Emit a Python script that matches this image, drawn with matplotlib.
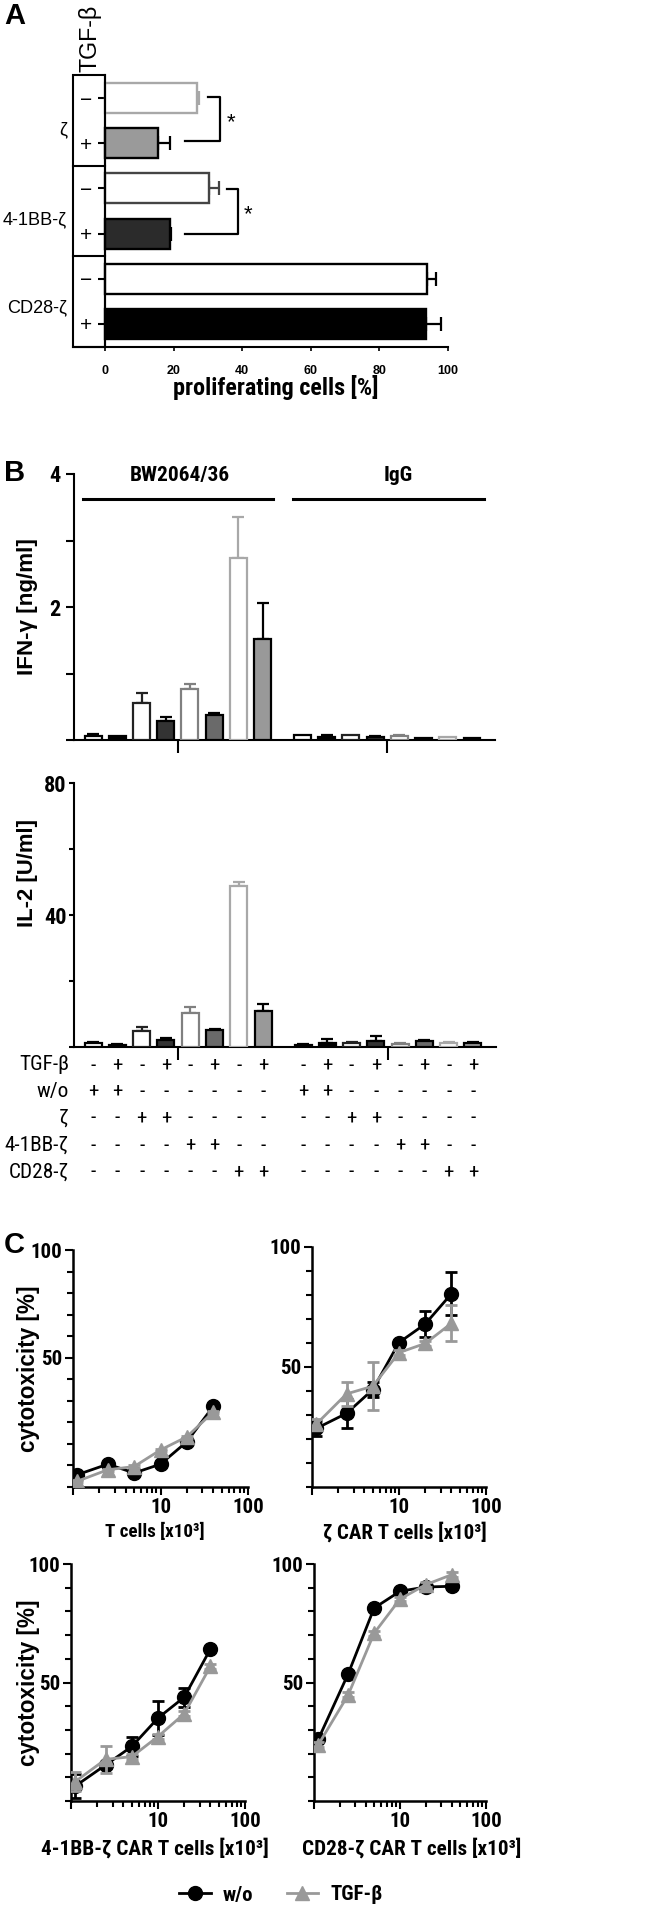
import matplotlib
matplotlib.use('Agg')
import matplotlib.pyplot as plt
from matplotlib import font_manager as fm
from matplotlib.patches import Rectangle
from matplotlib.ticker import MultipleLocator, LogLocator, NullFormatter, FixedLocator
import matplotlib.transforms as mtransforms
import numpy as np

# ---------------- fonts ----------------
_avail = {f.name for f in fm.fontManager.ttflist}
if 'Liberation Sans Narrow' in _avail:
    NARROW = {'family': ['Liberation Sans Narrow', 'DejaVu Sans']}
elif 'Roboto Condensed' in _avail:
    NARROW = {'family': ['Roboto Condensed', 'DejaVu Sans']}
else:
    NARROW = {'family': ['Liberation Sans', 'DejaVu Sans']}
SANS = ['Liberation Sans', 'DejaVu Sans']
plt.rcParams['font.family'] = SANS

# ---------------- data ----------------
# Panel A
A_groups = ['ζ', '4-1BB-ζ', 'CD28-ζ']
A_tgf = ['−', '+', '−', '+', '−', '+']
A_vals = [26.8, 15.6, 30.3, 18.9, 94.0, 93.5]
A_err = [0.6, 3.4, 3.0, 0.4, 2.5, 4.5]
A_ticks = [0, 20, 40, 60, 80, 100]
A_fill = ['white', '#9a9a9a', 'white', '#2b2b2b', 'white', 'black']
A_edge = ['#a8a8a8', 'black', '#444444', 'black', 'black', 'black']

# Panel B
B_groups = ['BW2064/36', 'IgG']
B_rows = ['TGF-β', 'w/o', 'ζ', '4-1BB-ζ', 'CD28-ζ']
B_tgf = ['-', '+'] * 8
B_car = ['w/o', 'w/o', 'ζ', 'ζ', '4-1BB-ζ', '4-1BB-ζ', 'CD28-ζ', 'CD28-ζ'] * 2
ifn_vals = [0.06, 0.06, 0.55, 0.29, 0.76, 0.37, 2.73, 1.52,
            0.07, 0.05, 0.07, 0.05, 0.065, 0.03, 0.045, 0.03]
ifn_err = [0.025, 0.0, 0.15, 0.06, 0.08, 0.03, 0.62, 0.54,
           0.0, 0.02, 0.0, 0.015, 0.015, 0.0, 0.0, 0.0]
il2_vals = [1.2, 0.7, 4.7, 2.2, 10.3, 5.1, 48.8, 11.0,
            0.7, 1.2, 1.2, 1.7, 1.0, 1.7, 1.2, 1.1]
il2_err = [0.4, 0.2, 1.5, 0.5, 1.7, 0.4, 1.3, 2.1,
           0.2, 1.2, 0.3, 1.5, 0.2, 0.4, 0.3, 0.3]
B_fill = ['white', 'black', 'white', '#333333', 'white', '#6a6a6a', 'white', '#999999'] * 2
B_edge = ['black', 'black', '#222222', 'black', '#808080', 'black', '#a8a8a8', 'black'] * 2

# Panel C
x_cells = [1.12, 2.5, 5, 10, 20, 40]
T_wo = [-4.3, 0.6, -3.5, 0.6, 11.0, 27.4]
T_wo_err = [0.5, 0.5, 0.5, 0.5, 0.5, 0.5]
T_tg = [-7.3, -2.0, -0.5, 7.2, 13.3, 24.8]
T_tg_err = [0.5, 0.5, 0.5, 0.5, 0.5, 0.5]
Z_wo = [24.4, 30.7, 40.6, 60.2, 67.9, 80.5]
Z_wo_err = [3, 6, 3, 1, 5.5, 9]
Z_tg = [26.2, 38.8, 42, 56, 59.8, 68.2]
Z_tg_err = [2, 5, 10, 1, 1, 7.5]
BB_wo = [6.3, 15.2, 23, 35, 43.8, 64.1]
BB_wo_err = [5, 1, 4, 7, 4, 1]
BB_tg = [8.2, 17.6, 18.7, 27.2, 36.8, 56.8]
BB_tg_err = [4, 5.7, 1, 1, 1, 1]
CD_wo = [26, 53.7, 81.4, 88.5, 90.3, 90.6]
CD_wo_err = [1, 1, 1, 1, 1, 1]
CD_tg = [23.7, 44.8, 70.8, 85.2, 91.3, 95.5]
CD_tg_err = [1, 1, 1, 1, 1, 1]

# ---------------- figure ----------------
W, H = 667, 1912
fig = plt.figure(figsize=(W / 100, H / 100), dpi=100)
renderer = fig.canvas.get_renderer()


def add_ax(x0, y0, x1, y1):
    return fig.add_axes([x0 / W, 1 - y1 / H, (x1 - x0) / W, (y1 - y0) / H])


def fx(x):
    return x / W


def fy(y):
    return 1 - y / H


def fit(t, target_px):
    """scale a text so that its length matches the reference length (px)"""
    bb = t.get_window_extent(renderer)
    length = bb.height if abs(t.get_rotation() - 90) < 1 else bb.width
    t.set_fontsize(t.get_fontsize() * target_px / length)
    return t.get_fontsize()


LW = 1.5

# ---------------- Panel A ----------------
fig.text(fx(4), fy(16), 'A', fontsize=21, fontweight='bold', ha='left', va='center')
axA = add_ax(73, 75, 448, 347)
ypos = np.arange(len(A_vals))
for i in range(len(A_vals)):
    axA.barh(ypos[i], A_vals[i], height=0.66, color=A_fill[i], edgecolor=A_edge[i],
             linewidth=1.7, zorder=3)
    axA.errorbar(A_vals[i], ypos[i], xerr=[[0], [A_err[i]]], fmt='none', ecolor=A_edge[i],
                 elinewidth=1.6, capsize=5, capthick=1.6, zorder=2)
xminA = -9.3
axA.set_xlim(xminA, 100)
axA.set_ylim(5.51, -0.51)
for s in ['top', 'right']:
    axA.spines[s].set_visible(False)
axA.spines['left'].set_position(('data', 0))
axA.spines['left'].set_linewidth(LW)
axA.spines['bottom'].set_linewidth(LW)
axA.set_yticks(ypos, A_tgf, fontsize=15)
axA.tick_params(axis='y', direction='out', length=5, width=LW, pad=4)
axA.set_xticks(A_ticks, [str(v) for v in A_ticks], fontsize=9, fontweight='bold')
axA.tick_params(axis='x', direction='out', length=3, width=1.2, pad=10)
# box with group dividers
axA.add_patch(Rectangle((xminA, -0.51), -xminA, 6.02, fill=False, lw=LW, ec='black',
                        clip_on=False, zorder=4))
for yd in [1.5, 3.5]:
    axA.plot([xminA, 0], [yd, yd], color='black', lw=LW, clip_on=False, zorder=4)
# significance brackets
axA.plot([30.0, 33.5, 33.5, 23.3], [-0.02, -0.02, 0.95, 0.95], color='black', lw=1.6, zorder=4)
axA.text(35.4, 0.55, '*', fontsize=16, ha='left', va='center')
axA.plot([35.6, 38.8, 38.8, 23.3], [2.01, 2.01, 3.0, 3.0], color='black', lw=1.6, zorder=4)
axA.text(40.4, 2.58, '*', fontsize=16, ha='left', va='center')
grp_txt = []
for g, yy in zip(A_groups, [130, 220, 308]):
    grp_txt.append(fig.text(fx(67), fy(yy), g, fontsize=13, ha='right', va='center'))
s = fit(grp_txt[1], 64)
for t in grp_txt:
    t.set_fontsize(s)
t = fig.text(fx(90), fy(38), 'TGF-β', fontsize=14, rotation=90, ha='center', va='center')
fit(t, 68)
t = fig.text(fx(276), fy(387), 'proliferating cells [%]', fontsize=16, fontweight='bold',
             ha='center', va='center', **NARROW)
fit(t, 205)

# ---------------- Panel B ----------------
fig.text(fx(4), fy(473), 'B', fontsize=21, fontweight='bold', ha='left', va='center')
xB = np.r_[np.arange(8), np.arange(8) + 8.65]
grp_centers = [xB[:8].mean(), xB[8:].mean()]


def bar_panel(box, vals, errs, ylim, major, labels, minor, tlen, tpad):
    ax = add_ax(*box)
    ax.bar(xB, vals, width=0.7, color=B_fill, edgecolor=B_edge, linewidth=1.6, zorder=3)
    for i in range(len(vals)):
        if errs[i] > 0:
            ax.errorbar(xB[i], vals[i], yerr=[[0], [errs[i]]], fmt='none', ecolor=B_edge[i],
                        elinewidth=1.6, capsize=4, capthick=1.6, zorder=2)
    ax.set_xlim(-0.79, 16.6)
    ax.set_ylim(*ylim)
    for sp in ['top', 'right']:
        ax.spines[sp].set_visible(False)
    for sp in ['left', 'bottom']:
        ax.spines[sp].set_linewidth(LW)
    ax.set_yticks(major, labels, fontsize=16, fontweight='bold', **NARROW)
    ax.yaxis.set_minor_locator(FixedLocator(minor))
    ax.tick_params(axis='y', which='both', direction='out', length=tlen, width=LW, pad=tpad)
    ax.set_xticks(grp_centers, ['', ''])
    ax.tick_params(axis='x', direction='out', length=9, width=LW)
    return ax


axI = bar_panel((74, 474, 495, 740), ifn_vals, ifn_err, (0, 4), [0, 2, 4], ['', '2', '4'],
                [1, 3], 6, 4)
gtx = []
for (x0, x1), g, tx in zip([(-0.41, 7.44), (8.26, 16.16)], B_groups, [3.6, 12.6]):
    axI.plot([x0, x1], [3.62, 3.62], color='black', lw=2.2, clip_on=False)
    gtx.append(axI.text(tx, 3.97, g, fontsize=16, fontweight='bold', ha='center', va='center',
                        **NARROW))
s = fit(gtx[0], 100)
gtx[1].set_fontsize(s)
t = fig.text(fx(28), fy(607), 'IFN-γ [ng/ml]', fontsize=14, fontweight='bold', rotation=90,
             ha='center', va='center')
fit(t, 137)

axL = bar_panel((74, 783, 496, 1047), il2_vals, il2_err, (0, 80), [0, 40, 80], ['', '40', '80'],
                [20, 60], 3.5, 2)
t = fig.text(fx(28), fy(873), 'IL-2 [U/ml]', fontsize=14, fontweight='bold', rotation=90,
             ha='center', va='center')
fit(t, 108)

# table under IL-2
trans = mtransforms.blended_transform_factory(axL.transData, fig.transFigure)
row_y = [1065, 1091, 1118, 1145, 1172]
row_txt = []
for r, (lab, yy) in enumerate(zip(B_rows, row_y)):
    row_txt.append(fig.text(fx(69), fy(yy), lab, fontsize=13, ha='right', va='center', **NARROW))
    for i in range(len(xB)):
        if r == 0:
            sgn = B_tgf[i]
        else:
            sgn = '+' if B_car[i] == lab else '-'
        axL.text(xB[i], fy(yy), sgn, transform=trans, fontsize=15, ha='center', va='center',
                 **NARROW)
s = fit(row_txt[3], 64)
for t in row_txt:
    t.set_fontsize(s)

# ---------------- Panel C ----------------
fig.text(fx(4), fy(1245), 'C', fontsize=21, fontweight='bold', ha='left', va='center')


def cyto_panel(box, ylim, wo, wo_err, tg, tg_err, xlabel, xl_pos, xl_w, ylabel):
    ax = add_ax(*box)
    ax.set_xscale('log')
    h1 = ax.errorbar(x_cells, wo, yerr=wo_err, color='black', marker='o', ms=10, lw=2.0,
                     elinewidth=2.0, capsize=4, capthick=2.0, zorder=3, label='w/o')
    h2 = ax.errorbar(x_cells, tg, yerr=tg_err, color='#999999', marker='^', ms=10, lw=2.0,
                     elinewidth=2.0, capsize=4, capthick=2.0, zorder=4, label='TGF-β')
    ax.set_xlim(1, 100)
    ax.set_ylim(*ylim)
    for sp in ['top', 'right']:
        ax.spines[sp].set_visible(False)
    for sp in ['left', 'bottom']:
        ax.spines[sp].set_linewidth(LW + 0.3)
    ax.set_yticks([50, 100], ['50', '100'], fontsize=15, fontweight='bold', **NARROW)
    ax.yaxis.set_minor_locator(MultipleLocator(10))
    ax.set_xticks([1, 10, 100], ['', '10', '100'], fontsize=15, fontweight='bold', **NARROW)
    ax.xaxis.set_minor_locator(LogLocator(base=10, subs=np.arange(2, 10)))
    ax.xaxis.set_minor_formatter(NullFormatter())
    ax.tick_params(axis='both', which='major', direction='out', length=6, width=LW, pad=2)
    ax.tick_params(axis='y', which='major', pad=1.5)
    ax.tick_params(axis='both', which='minor', direction='out', length=4, width=LW)
    tx = fig.text(fx(xl_pos[0]), fy(xl_pos[1]), xlabel, fontsize=14, fontweight='bold',
                  ha='center', va='center', **NARROW)
    fit(tx, xl_w)
    if ylabel:
        ty = fig.text(fx(29), fy((box[1] + box[3]) / 2), ylabel, fontsize=14, fontweight='bold',
                      rotation=90, ha='center', va='center')
        fit(ty, 167)
    return ax, h1, h2


cyto_panel((73, 1250, 248, 1487), (-10, 100), T_wo, T_wo_err, T_tg, T_tg_err,
           'T cells [x10³]', (155, 1532), 100, 'cytotoxicity [%]')
cyto_panel((312, 1247, 486, 1487), (0, 100), Z_wo, Z_wo_err, Z_tg, Z_tg_err,
           'ζ CAR T cells [x10³]', (405, 1532), 165, None)
cyto_panel((71, 1564, 245, 1801), (0, 100), BB_wo, BB_wo_err, BB_tg, BB_tg_err,
           '4-1BB-ζ CAR T cells [x10³]', (155, 1848), 228, 'cytotoxicity [%]')
_, h1, h2 = cyto_panel((314, 1564, 486, 1801), (0, 100), CD_wo, CD_wo_err, CD_tg, CD_tg_err,
                       'CD28-ζ CAR T cells [x10³]', (412, 1848), 220, None)

fig.legend(handles=[h1[0], h2[0]], labels=['w/o', 'TGF-β'], loc='center',
           bbox_to_anchor=(fx(281), fy(1895)), ncol=2, frameon=False,
           prop={**NARROW, 'weight': 'bold', 'size': 15},
           handlelength=1.5, columnspacing=1.6, handletextpad=0.6)

fig.savefig('out.png', dpi=100)
